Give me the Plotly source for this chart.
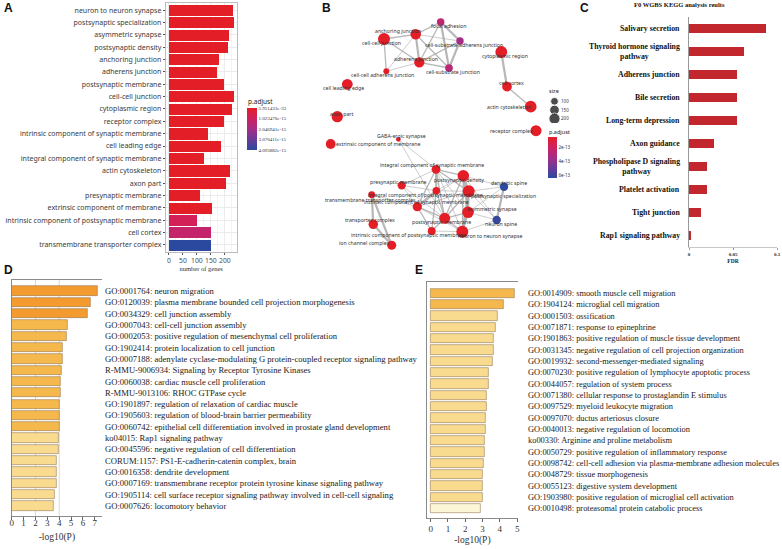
import plotly.graph_objects as go

W, H = 782, 549

# ---------------- Panel A data ----------------
a_terms = ["neuron to neuron synapse", "postsynaptic specialization", "asymmetric synapse",
           "postsynaptic density", "anchoring junction", "adherens junction",
           "postsynaptic membrane", "cell-cell junction", "cytoplasmic region",
           "receptor complex", "intrinsic component of synaptic membrane", "cell leading edge",
           "integral component of synaptic membrane", "actin cytoskeleton", "axon part",
           "presynaptic membrane", "extrinsic component of membrane",
           "intrinsic component of postsynaptic membrane", "cell cortex",
           "transmembrane transporter complex"]
a_counts = [229, 230, 213, 212, 178, 170, 196, 231, 224, 195, 137, 186, 125, 219, 204,
            109, 153, 101, 150, 149]
a_padj = [5.951433e-33, 1.2e-32, 3.1e-31, 4.0e-31, 2.2e-28, 8.5e-27, 3.0e-26, 6.1e-25,
          2.5e-24, 1.1e-22, 4.0e-21, 6.6e-21, 2.1e-20, 3.5e-20, 9.0e-19, 3.3e-18,
          1.2e-17, 8.5e-16, 1.3e-15, 4.093882e-15]
a_xticks = [0, 50, 100, 150, 200]
a_cbar_ticks = [5.951433e-33, 1.023470e-15, 2.046941e-15, 3.070411e-15, 4.093882e-15]

# ---------------- Panel B data (network) ----------------
b_nodes = ["focal adhesion", "anchoring junction", "cell-cell junction",
           "cell-substrate adherens junction", "adherens junction", "cell-substrate junction",
           "cell-cell adherens junction", "cytoplasmic region", "cell leading edge",
           "cell cortex", "actin cytoskeleton", "axon part", "receptor complex",
           "GABA-ergic synapse", "extrinsic component of membrane",
           "integral component of synaptic membrane", "postsynaptic density",
           "presynaptic membrane", "dendritic spine",
           "integral component of postsynaptic membrane", "postsynaptic specialization",
           "transmembrane transporter complex", "intrinsic component of synaptic membrane",
           "asymmetric synapse", "transporter complex", "postsynaptic membrane",
           "neuron spine", "intrinsic component of postsynaptic membrane",
           "neuron to neuron synapse", "ion channel complex"]
b_x = [140.7, 115.7, 84.0, 160.0, 119.3, 149.0, 86.3, 201.3, 47.3, 207.0, 230.7, 37.3,
       236.0, 98.3, 30.7, 136.0, 163.3, 101.7, 204.0, 136.3, 168.7, 71.7, 117.3, 168.0,
       73.3, 144.7, 196.7, 131.7, 162.3, 91.7]
b_y = [22.0, 34.3, 39.0, 41.0, 62.3, 68.0, 71.3, 52.0, 84.3, 86.7, 106.7, 116.7, 130.7,
       139.3, 144.0, 169.3, 175.7, 185.3, 186.7, 190.7, 191.3, 194.7, 206.7, 212.3, 224.3,
       218.3, 220.0, 231.0, 231.7, 245.3]
b_size = [90, 178, 231, 88, 170, 95, 55, 224, 186, 150, 219, 204, 195, 35, 153, 125, 212,
          109, 112, 90, 230, 75, 137, 213, 145, 196, 112, 101, 229, 130]
b_padj = [2.5e-13, 1e-20, 1e-20, 3.4e-13, 1e-20, 2.7e-13, 1e-20, 1e-20, 1e-20, 1e-20,
          1e-20, 1e-20, 1e-20, 1e-20, 1e-20, 1e-20, 1e-20, 1e-20, 6.2e-13, 1e-20, 1e-20,
          1e-20, 1e-20, 1e-20, 1e-20, 1e-20, 6.0e-13, 1e-20, 1e-20, 1e-20]
b_label_dx = [8, -18, -3, 4, -3, 4, -4, 4, -4, 4, -22, 4, -25, 3, 47, -4, -4, -3, 5, -11,
              35, -1, -1, 24, -3, -3, 4, -23, 28, -28]
b_label_dy = [-4, 3, -4, -4, 3, -4, -4, -4, -4, 4, 0, 3, 0, 3, 0, 4, -4, 3, 4, -4, -5, -5,
              5, 3, 4, -4, -4, -4, -4, 2]
b_edges = [
    ("cell-cell junction", "anchoring junction", 2), ("cell-cell junction", "adherens junction", 2),
    ("cell-cell junction", "cell-cell adherens junction", 2), ("anchoring junction", "focal adhesion", 2),
    ("anchoring junction", "cell-substrate adherens junction", 1), ("anchoring junction", "adherens junction", 3),
    ("anchoring junction", "cell-substrate junction", 2), ("anchoring junction", "cell-cell adherens junction", 1),
    ("focal adhesion", "cell-substrate adherens junction", 3), ("focal adhesion", "cell-substrate junction", 3),
    ("focal adhesion", "adherens junction", 2), ("cell-substrate adherens junction", "cell-substrate junction", 3),
    ("cell-substrate adherens junction", "adherens junction", 2), ("adherens junction", "cell-substrate junction", 2),
    ("adherens junction", "cell-cell adherens junction", 1),
    ("cytoplasmic region", "cell cortex", 3), ("cell cortex", "actin cytoskeleton", 2),
    ("GABA-ergic synapse", "integral component of synaptic membrane", 1),
    ("GABA-ergic synapse", "postsynaptic membrane", 1),
    ("integral component of synaptic membrane", "postsynaptic density", 2),
    ("integral component of synaptic membrane", "presynaptic membrane", 1),
    ("integral component of synaptic membrane", "integral component of postsynaptic membrane", 3),
    ("integral component of synaptic membrane", "intrinsic component of synaptic membrane", 2),
    ("integral component of synaptic membrane", "postsynaptic specialization", 2),
    ("integral component of synaptic membrane", "asymmetric synapse", 1),
    ("integral component of synaptic membrane", "postsynaptic membrane", 2),
    ("integral component of synaptic membrane", "neuron to neuron synapse", 1),
    ("postsynaptic density", "postsynaptic specialization", 3), ("postsynaptic density", "asymmetric synapse", 3),
    ("postsynaptic density", "neuron to neuron synapse", 2), ("postsynaptic density", "postsynaptic membrane", 2),
    ("postsynaptic density", "dendritic spine", 1), ("postsynaptic density", "neuron spine", 1),
    ("postsynaptic density", "integral component of postsynaptic membrane", 1),
    ("postsynaptic density", "intrinsic component of synaptic membrane", 1),
    ("postsynaptic specialization", "asymmetric synapse", 3),
    ("postsynaptic specialization", "neuron to neuron synapse", 3),
    ("postsynaptic specialization", "postsynaptic membrane", 2),
    ("postsynaptic specialization", "dendritic spine", 1), ("postsynaptic specialization", "neuron spine", 1),
    ("postsynaptic specialization", "integral component of postsynaptic membrane", 1),
    ("postsynaptic specialization", "intrinsic component of synaptic membrane", 1),
    ("asymmetric synapse", "neuron to neuron synapse", 3), ("asymmetric synapse", "postsynaptic membrane", 2),
    ("asymmetric synapse", "neuron spine", 1), ("asymmetric synapse", "dendritic spine", 1),
    ("postsynaptic membrane", "neuron to neuron synapse", 2),
    ("postsynaptic membrane", "integral component of postsynaptic membrane", 2),
    ("postsynaptic membrane", "intrinsic component of postsynaptic membrane", 2),
    ("postsynaptic membrane", "intrinsic component of synaptic membrane", 2),
    ("postsynaptic membrane", "presynaptic membrane", 1),
    ("integral component of postsynaptic membrane", "intrinsic component of synaptic membrane", 3),
    ("integral component of postsynaptic membrane", "intrinsic component of postsynaptic membrane", 2),
    ("integral component of postsynaptic membrane", "presynaptic membrane", 1),
    ("intrinsic component of synaptic membrane", "intrinsic component of postsynaptic membrane", 2),
    ("intrinsic component of synaptic membrane", "presynaptic membrane", 1),
    ("intrinsic component of synaptic membrane", "transmembrane transporter complex", 1),
    ("intrinsic component of synaptic membrane", "neuron to neuron synapse", 1),
    ("intrinsic component of postsynaptic membrane", "neuron to neuron synapse", 1),
    ("transmembrane transporter complex", "transporter complex", 3),
    ("transmembrane transporter complex", "ion channel complex", 3),
    ("transporter complex", "ion channel complex", 3),
    ("neuron spine", "dendritic spine", 3), ("neuron spine", "neuron to neuron synapse", 1),
]
b_size_legend = [100, 150, 200]
b_cbar_ticks = [2e-13, 4e-13, 6e-13]
b_cbar_range = [0.6e-13, 6.3e-13]

# ---------------- Panel C data ----------------
c_title = "F0 WGBS KEGG analysis reults"
c_terms = ["Salivary secretion", "Thyroid hormone signaling<br>pathway", "Adherens junction",
           "Bile secretion", "Long-term depression", "Axon guidance",
           "Phospholipase D signaling<br>pathway", "Platelet activation", "Tight junction",
           "Rap1 signaling pathway"]
c_fdr = [0.0878, 0.0624, 0.0544, 0.0544, 0.0544, 0.0285, 0.0202, 0.0202, 0.0133, 0.0019]
c_xticks = [0, 0.05, 0.1]
c_xticktext = ["0", "0.05", "0.1"]

# ---------------- Panel D data ----------------
d_terms = ["GO:0001764: neuron migration",
           "GO:0120039: plasma membrane bounded cell projection morphogenesis",
           "GO:0034329: cell junction assembly",
           "GO:0007043: cell-cell junction assembly",
           "GO:0002053: positive regulation of mesenchymal cell proliferation",
           "GO:1902414: protein localization to cell junction",
           "GO:0007188: adenylate cyclase-modulating G protein-coupled receptor signaling pathway",
           "R-MMU-9006934: Signaling by Receptor Tyrosine Kinases",
           "GO:0060038: cardiac muscle cell proliferation",
           "R-MMU-9013106: RHOC GTPase cycle",
           "GO:1901897: regulation of relaxation of cardiac muscle",
           "GO:1905603: regulation of blood-brain barrier permeability",
           "GO:0060742: epithelial cell differentiation involved in prostate gland development",
           "ko04015: Rap1 signaling pathway",
           "GO:0045596: negative regulation of cell differentiation",
           "CORUM:1157: PS1-E-cadherin-catenin complex, brain",
           "GO:0016358: dendrite development",
           "GO:0007169: transmembrane receptor protein tyrosine kinase signaling pathway",
           "GO:1905114: cell surface receptor signaling pathway involved in cell-cell signaling",
           "GO:0007626: locomotory behavior"]
d_vals = [7.23, 6.67, 6.39, 4.71, 4.62, 4.29, 4.26, 4.23, 4.15, 4.12, 4.06, 4.06, 4.01,
          3.95, 3.92, 3.81, 3.78, 3.78, 3.59, 3.53]
d_xticks = [0, 1, 2, 3, 4, 5, 6, 7]
d_grid = [2, 4]

# ---------------- Panel E data ----------------
e_terms = ["GO:0014909: smooth muscle cell migration",
           "GO:1904124: microglial cell migration",
           "GO:0001503: ossification",
           "GO:0071871: response to epinephrine",
           "GO:1901863: positive regulation of muscle tissue development",
           "GO:0031345: negative regulation of cell projection organization",
           "GO:0019932: second-messenger-mediated signaling",
           "GO:0070230: positive regulation of lymphocyte apoptotic process",
           "GO:0044057: regulation of system process",
           "GO:0071380: cellular response to prostaglandin E stimulus",
           "GO:0097529: myeloid leukocyte migration",
           "GO:0097070: ductus arteriosus closure",
           "GO:0040013: negative regulation of locomotion",
           "ko00330: Arginine and proline metabolism",
           "GO:0050729: positive regulation of inflammatory response",
           "GO:0098742: cell-cell adhesion via plasma-membrane adhesion molecules",
           "GO:0048729: tissue morphogenesis",
           "GO:0055123: digestive system development",
           "GO:1903980: positive regulation of microglial cell activation",
           "GO:0010498: proteasomal protein catabolic process"]
e_vals = [4.83, 4.25, 3.87, 3.75, 3.67, 3.62, 3.58, 3.38, 3.33, 3.25, 3.25, 3.21, 3.21,
          3.10, 3.10, 3.08, 3.02, 3.01, 3.01, 2.92]
e_xticks = [0, 1, 2, 3, 4, 5]
e_grid = [2]

# ---------------- helpers / styles ----------------
def px(x):
    return x / W


def py(y):
    return 1 - y / H


SANS = "Noto Sans"
SERIF = "Liberation Serif"
CS = [[0, "#2B4A9F"], [0.25, "#6A3A97"], [0.5, "#A52D86"], [0.75, "#CF2160"], [1, "#E41E26"]]


def meta_color(v):
    if v >= 6:
        return "#F39B2F"
    if v >= 4:
        return "#F5B84C"
    if v >= 3:
        return "#F9DB90"
    return "#FCF6D6"


fig = go.Figure()
ann = []
shapes = []

# ---------------- Panel A ----------------
fig.add_trace(go.Bar(
    x=a_counts, y=a_terms, orientation="h", width=0.9, xaxis="x", yaxis="y",
    showlegend=False, hoverinfo="x+y",
    marker=dict(color=[-p for p in a_padj], colorscale=CS, cmin=-max(a_padj), cmax=-min(a_padj),
                line=dict(width=0),
                colorbar=dict(thickness=10, thicknessmode="pixels", len=42, lenmode="pixels",
                              x=px(247), xanchor="left", y=py(129), yanchor="middle",
                              xpad=0, ypad=0, outlinewidth=0, ticks="",
                              tickvals=[-t for t in a_cbar_ticks],
                              ticktext=[f"{t:.6e}" for t in a_cbar_ticks],
                              tickfont=dict(family=SERIF, size=5, color="#333")))))
ann.append(dict(text="p.adjust", x=px(246), y=py(102), xref="paper", yref="paper",
                xanchor="left", yanchor="middle", showarrow=False,
                font=dict(family=SANS, size=6.5, color="#222")))

# ---------------- Panel B ----------------
pos = {n: (x, y) for n, x, y in zip(b_nodes, b_x, b_y)}
edge_w = {1: 0.7, 2: 1.3, 3: 2.2}
for w in (1, 2, 3):
    ex, ey = [], []
    for a, b, k in b_edges:
        if k == w:
            ex += [pos[a][0], pos[b][0], None]
            ey += [pos[a][1], pos[b][1], None]
    fig.add_trace(go.Scatter(x=ex, y=ey, mode="lines", xaxis="x2", yaxis="y2",
                             line=dict(color="rgba(165,165,165,0.8)", width=edge_w[w]),
                             hoverinfo="skip", showlegend=False))
SIZEREF = 3.2
fig.add_trace(go.Scatter(
    x=b_x, y=b_y, mode="markers", xaxis="x2", yaxis="y2", text=b_nodes, hoverinfo="text",
    showlegend=False,
    marker=dict(size=b_size, sizemode="area", sizeref=SIZEREF, opacity=1,
                color=[-p for p in b_padj], colorscale=CS,
                cmin=-b_cbar_range[1], cmax=-b_cbar_range[0], line=dict(width=0),
                colorbar=dict(thickness=9, thicknessmode="pixels", len=41, lenmode="pixels",
                              x=px(548), xanchor="left", y=py(157.5), yanchor="middle",
                              xpad=0, ypad=0, outlinewidth=0, ticks="",
                              tickvals=[-t for t in b_cbar_ticks],
                              ticktext=[f"{t:.0e}" for t in b_cbar_ticks],
                              tickfont=dict(family=SANS, size=4.5, color="#333")))))
for n, x, y, dx, dy in zip(b_nodes, b_x, b_y, b_label_dx, b_label_dy):
    ann.append(dict(text=n, x=x, y=y, xref="x2", yref="y2", xshift=dx, yshift=dy,
                    xanchor="center", yanchor="middle", showarrow=False,
                    font=dict(family=SANS, size=5.2, color="#333")))
# size legend
fig.add_trace(go.Scatter(
    x=[0] * len(b_size_legend), y=[str(s) for s in b_size_legend], mode="markers",
    xaxis="x6", yaxis="y6", showlegend=False, hoverinfo="skip",
    marker=dict(size=b_size_legend, sizemode="area", sizeref=SIZEREF, color="black")))
ann.append(dict(text="size", x=px(547), y=py(91), xref="paper", yref="paper", xanchor="left",
                yanchor="middle", showarrow=False, font=dict(family=SANS, size=5.5, color="#222")))
ann.append(dict(text="p.adjust", x=px(547), y=py(132), xref="paper", yref="paper",
                xanchor="left", yanchor="middle", showarrow=False,
                font=dict(family=SANS, size=5.5, color="#222")))

# ---------------- Panel C ----------------
fig.add_trace(go.Bar(x=c_fdr, y=c_terms, orientation="h", width=0.35, xaxis="x3", yaxis="y3",
                     marker=dict(color="#C1272D", line=dict(width=0)), showlegend=False))
for t in c_terms:
    ann.append(dict(text=t, x=0, y=t, xref="x3 domain", yref="y3", xanchor="right",
                    yanchor="middle", xshift=-7, align="center", showarrow=False,
                    font=dict(family=SERIF, size=7.8, color="#111", weight="bold")))
ann.append(dict(text=c_title, x=px(679), y=py(5), xref="paper", yref="paper",
                xanchor="center", yanchor="middle", showarrow=False,
                font=dict(family=SERIF, size=6.5, color="#111", weight="bold")))

# ---------------- Panel D ----------------
d_idx = list(range(len(d_terms)))
fig.add_trace(go.Bar(x=d_vals, y=d_idx, orientation="h", width=0.82, xaxis="x4", yaxis="y4",
                     marker=dict(color=[meta_color(v) for v in d_vals],
                                 line=dict(color="rgba(140,110,70,0.75)", width=0.7)),
                     showlegend=False))
for i, t in zip(d_idx, d_terms):
    ann.append(dict(text=t, x=1, y=i, xref="x4 domain", yref="y4", xanchor="left",
                    yanchor="middle", xshift=1, showarrow=False,
                    font=dict(family=SERIF, size=8.6, color="#1a1a1a")))
for g in d_grid:
    shapes.append(dict(type="line", x0=g, x1=g, xref="x4", y0=0, y1=1, yref="y4 domain",
                       line=dict(color="#CFCFCF", width=0.8), layer="below"))

# ---------------- Panel E ----------------
e_idx = list(range(len(e_terms)))
fig.add_trace(go.Bar(x=e_vals, y=e_idx, orientation="h", width=0.82, xaxis="x5", yaxis="y5",
                     marker=dict(color=[meta_color(v) for v in e_vals],
                                 line=dict(color="rgba(140,110,70,0.75)", width=0.7)),
                     showlegend=False))
for i, t in zip(e_idx, e_terms):
    ann.append(dict(text=t, x=1, y=i, xref="x5 domain", yref="y5", xanchor="left",
                    yanchor="middle", xshift=8, showarrow=False,
                    font=dict(family=SERIF, size=8.4, color="#1a1a1a")))
for g in e_grid:
    shapes.append(dict(type="line", x0=g, x1=g, xref="x5", y0=0, y1=1, yref="y5 domain",
                       line=dict(color="#CFCFCF", width=0.8), layer="below"))

# ---------------- panel letters ----------------
for letter, lx, ly in [("A", 8, 8), ("B", 326, 8), ("C", 584, 8), ("D", 8, 270), ("E", 419, 270)]:
    ann.append(dict(text=letter, x=px(lx), y=py(ly), xref="paper", yref="paper",
                    xanchor="center", yanchor="middle", showarrow=False,
                    font=dict(family="Liberation Sans", size=12, color="#111", weight="bold")))

nA = len(a_terms)
nC = len(c_terms)
nD = len(d_terms)
nE = len(e_terms)
meta_tick = dict(family=SERIF, size=9, color="#333")

fig.update_layout(
    width=W, height=H, margin=dict(l=0, r=0, t=0, b=0, autoexpand=False),
    paper_bgcolor="white", plot_bgcolor="white", bargap=0,
    annotations=ann, shapes=shapes,
    # A
    xaxis=dict(domain=[px(165.7), px(236.7)], range=[-11.5, 242.5], tickvals=a_xticks,
               tickangle=0,
               showgrid=True, gridcolor="#EBEBEB", gridwidth=0.8,
               minor=dict(dtick=25, tick0=25, showgrid=True, gridcolor="#F4F4F4", gridwidth=0.5),
               showline=True, mirror=True, linecolor="#BDBDBD", linewidth=0.8,
               ticks="outside", ticklen=2, tickcolor="#555", zeroline=False,
               tickfont=dict(family=SANS, size=6.8, color="#4D4D4D"),
               title=dict(text="number of genes", standoff=1,
                          font=dict(family=SERIF, size=6.5, color="#333"))),
    yaxis=dict(domain=[py(252.3), py(2.7)], type="category", categoryorder="array",
               categoryarray=a_terms, range=[nA - 0.4, -0.6],
               showgrid=True, gridcolor="#EBEBEB", showline=True, mirror=True,
               linecolor="#BDBDBD", linewidth=0.8, ticks="outside", ticklen=2,
               tickcolor="#555", tickfont=dict(family=SANS, size=7, color="#3A3A3A")),
    # B
    xaxis2=dict(domain=[px(300), px(580)], range=[0, 280], visible=False),
    yaxis2=dict(domain=[py(290), py(0)], range=[290, 0], visible=False),
    # size legend
    xaxis6=dict(domain=[px(549), px(560)], range=[-1, 1], visible=False),
    yaxis6=dict(domain=[py(123), py(97)], type="category", range=[2.5, -0.5], side="right",
                anchor="x6", showline=False, showgrid=False, zeroline=False, ticks="",
                tickfont=dict(family=SANS, size=4.5, color="#333")),
    # C
    xaxis3=dict(domain=[px(689), px(777)], range=[0, 0.1], tickvals=c_xticks,
                ticktext=c_xticktext, anchor="y3", showgrid=False, zeroline=False,
                tickangle=0,
                showline=True, linecolor="#C8C8C8", linewidth=0.6, ticks="outside",
                ticklen=2, tickcolor="#999",
                tickfont=dict(family=SERIF, size=5, color="#222", weight="bold"),
                title=dict(text="FDR", standoff=3,
                           font=dict(family=SERIF, size=5.5, color="#222", weight="bold"))),
    yaxis3=dict(domain=[py(247), py(17)], type="category", categoryorder="array",
                categoryarray=c_terms, range=[nC - 0.5, -0.5], anchor="x3",
                showticklabels=False, showgrid=False, showline=True, linecolor="#999",
                linewidth=0.8, ticks="", zeroline=False),
    # D
    xaxis4=dict(domain=[px(11.7), px(102)], range=[0, 7.6], tickvals=d_xticks, anchor="y4",
                tickangle=0,
                showgrid=False, zeroline=False, showline=True, mirror=True, linecolor="#8A8A8A",
                linewidth=0.8, ticks="outside", ticklen=3, tickcolor="#666",
                tickfont=meta_tick, ticklabelstandoff=-5,
                title=dict(text="-log10(P)", standoff=6, font=dict(family=SERIF, size=9.5, color="#333"))),
    yaxis4=dict(domain=[py(516), py(280)], range=[nD - 1 + 0.88, -0.97], anchor="x4",
                showticklabels=False, showgrid=False, zeroline=False, showline=True,
                linecolor="#8A8A8A", linewidth=0.8, ticks=""),
    # E
    xaxis5=dict(domain=[px(426.7), px(518)], range=[-0.23, 5.05], tickvals=e_xticks, anchor="y5",
                tickangle=0,
                showgrid=False, zeroline=False, showline=True, mirror=True, linecolor="#8A8A8A",
                linewidth=0.8, ticks="outside", ticklen=3, tickcolor="#666",
                tickfont=meta_tick, ticklabelstandoff=-1,
                title=dict(text="-log10(P)", standoff=3, font=dict(family=SERIF, size=9.5, color="#333"))),
    yaxis5=dict(domain=[py(518), py(282)], range=[nE - 1 + 0.82, -1.0], anchor="x5",
                showticklabels=False, showgrid=False, zeroline=False, showline=True,
                linecolor="#8A8A8A", linewidth=0.8, ticks=""),
)

fig.write_html("out.html", config={"displayModeBar": False},
               post_script="document.body.style.margin='0px';")
